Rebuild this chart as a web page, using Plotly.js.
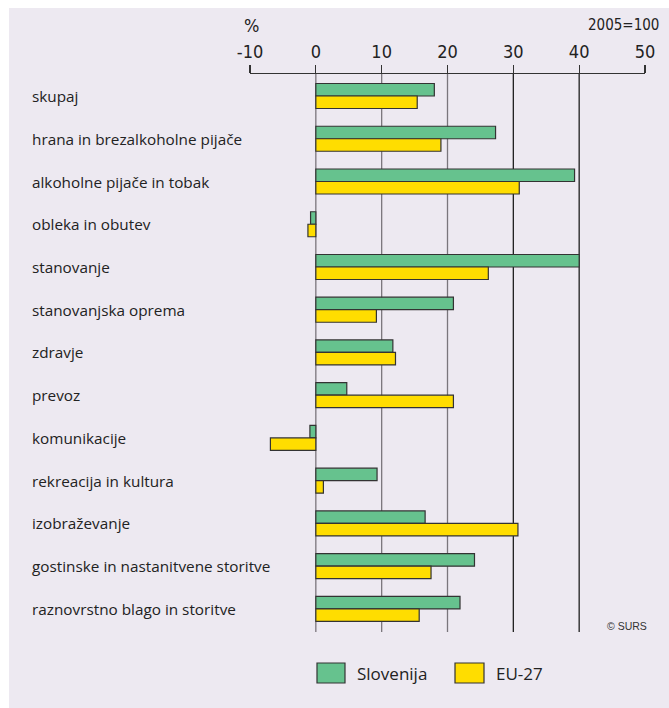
<!DOCTYPE html>
<html>
<head>
<meta charset="utf-8">
<script src="https://cdn.plot.ly/plotly-3.0.1.min.js"></script>
<style>html,body{margin:0;padding:0;background:#fff;}#chart{width:669px;height:708px;}</style>
</head>
<body>
<div id="chart"></div>
<script>
const categories = [
  "skupaj",
  "hrana in brezalkoholne pijače",
  "alkoholne pijače in tobak",
  "obleka in obutev",
  "stanovanje",
  "stanovanjska oprema",
  "zdravje",
  "prevoz",
  "komunikacije",
  "rekreacija in kultura",
  "izobraževanje",
  "gostinske in nastanitvene storitve",
  "raznovrstno blago in storitve"
];
const slovenija = [18.0, 27.3, 39.3, -0.8, 40.0, 20.9, 11.7, 4.7, -0.9, 9.3, 16.6, 24.1, 21.9];
const eu27 = [15.4, 19.0, 30.9, -1.2, 26.2, 9.2, 12.1, 20.9, -6.9, 1.15, 30.7, 17.5, 15.7];
const seriesNames = ["Slovenija", "EU-27"];
const tickVals = [-10, 0, 10, 20, 30, 40, 50];
const gridVals = [0, 10, 20, 30, 40];

const GREEN = "#66c28e", YELLOW = "#ffdd00", OUT = "#333333";
const BG = "#ede9f1";

const traces = [
  {type: "bar", orientation: "h", name: seriesNames[0], y: categories, x: slovenija,
   marker: {color: GREEN, line: {color: OUT, width: 1.2}}, hoverinfo: "x"},
  {type: "bar", orientation: "h", name: seriesNames[1], y: categories, x: eu27,
   marker: {color: YELLOW, line: {color: OUT, width: 1.2}}, hoverinfo: "x"}
];

const shapes = [
  {type: "rect", xref: "paper", yref: "paper", x0: -0.6101, x1: 1.07, y0: -0.15, y1: 1.1183,
   fillcolor: BG, line: {width: 0}, layer: "below"}
];
gridVals.forEach(v => {
  shapes.push({type: "line", xref: "x", yref: "paper", x0: v, x1: v, y0: 0, y1: 1,
    line: {color: v >= 30 ? "#1e1e1e" : "#7a767c", width: 1.3}, layer: "below"});
});
// legend boxes
const legColors = [GREEN, YELLOW];
const legBoxX = [[0.1696, 0.2405], [0.519, 0.5924]];
const legTextX = [0.2658, 0.6177];
legColors.forEach((c, i) => {
  shapes.push({type: "rect", xref: "paper", yref: "paper", x0: legBoxX[i][0], x1: legBoxX[i][1],
    y0: -0.0914, y1: -0.0556, fillcolor: c, line: {color: OUT, width: 1.2}});
});

const annotations = [];
categories.forEach(c => {
  annotations.push({xref: "paper", yref: "y", x: -0.557, y: c, text: c, showarrow: false,
    xanchor: "left", yanchor: "middle",
    font: {family: "Open Sans, Noto Sans, sans-serif", size: 15.3, color: "#222"}});
});
seriesNames.forEach((n, i) => {
  annotations.push({xref: "paper", yref: "paper", x: legTextX[i], y: -0.0735, text: n,
    showarrow: false, xanchor: "left", yanchor: "middle",
    font: {family: "Open Sans, Noto Sans, sans-serif", size: 17, color: "#222"}});
});
annotations.push({xref: "paper", yref: "paper", x: 0.005, y: 1.0878, text: "%", showarrow: false,
  xanchor: "center", yanchor: "middle",
  font: {family: "Liberation Sans Narrow, DejaVu Sans Condensed, sans-serif", size: 18, color: "#222"}});
annotations.push({xref: "paper", yref: "paper", x: 1.0405, y: 1.0878, text: "2005=100", showarrow: false,
  xanchor: "right", yanchor: "middle",
  font: {family: "Liberation Sans Narrow, DejaVu Sans Condensed, sans-serif", size: 15, color: "#222"}});
annotations.push({xref: "paper", yref: "paper", x: 1.0101, y: 0.0108, text: "© SURS", showarrow: false,
  xanchor: "right", yanchor: "middle",
  font: {family: "Liberation Sans, Arial, sans-serif", size: 10.5, color: "#333"}});

const layout = {
  width: 669, height: 708,
  margin: {l: 250, r: 24, t: 74, b: 76, pad: 0},
  paper_bgcolor: "#ffffff",
  plot_bgcolor: "rgba(0,0,0,0)",
  showlegend: false,
  barmode: "group",
  bargap: 0.415,
  bargroupgap: 0,
  xaxis: {
    side: "top", range: [-10, 50], tickvals: tickVals, ticktext: tickVals.map(String),
    showgrid: false, zeroline: false, showline: true, linecolor: "#333", linewidth: 1.3,
    ticks: "outside", ticklen: 8, tickcolor: "#333", tickwidth: 1.3,
    tickfont: {family: "Liberation Sans Narrow, DejaVu Sans Condensed, sans-serif", size: 18, color: "#222"},
    fixedrange: true
  },
  yaxis: {
    type: "category", categoryorder: "array", categoryarray: categories,
    range: [12.54, -0.515], showticklabels: false, showgrid: false, zeroline: false,
    showline: false, ticks: "", fixedrange: true
  },
  shapes: shapes,
  annotations: annotations
};

Plotly.newPlot("chart", traces, layout, {displayModeBar: false, staticPlot: true});
</script>
</body>
</html>
